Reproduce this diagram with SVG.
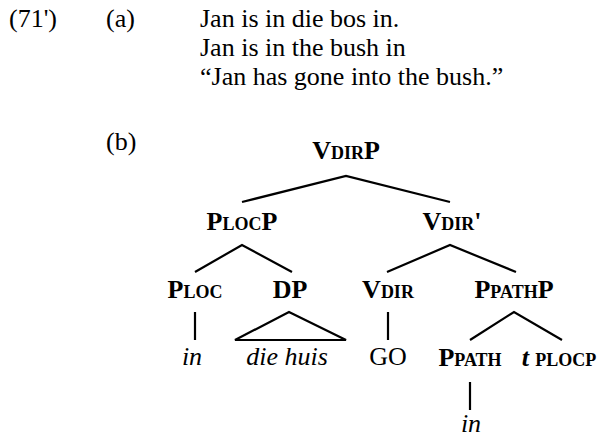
<svg xmlns="http://www.w3.org/2000/svg" width="598" height="441" viewBox="0 0 598 441" font-family="Liberation Serif, DejaVu Serif, serif">
<style>
text{font-family:'Liberation Serif','DejaVu Serif',serif;font-size:26px;fill:#000}
.lab{font-weight:bold;text-anchor:middle}
.sc{font-size:18px}
.it{font-style:italic}
.mid{text-anchor:middle}
.edge{stroke:#000;stroke-width:2.2;fill:none}
</style>
<rect width="598" height="441" fill="#fff"/>
<g id="example-a">
<text x="9" y="27">(71')</text>
<text x="106" y="27">(a)</text>
<text x="200" y="27">Jan is in die bos in.</text>
<text x="200" y="56">Jan is in the bush in</text>
<text x="200" y="85">“Jan has gone into the bush.”</text>
<text x="106" y="150">(b)</text>
</g>
<g id="connectors">
<polyline class="edge" points="242,202 346,176 450,202"/>
<polyline class="edge" points="195,272 242,245 292,272"/>
<polyline class="edge" points="387,272 450,245 516,272"/>
<polyline class="edge" points="470,340 514,312 562,340"/>
<line class="edge" x1="195" y1="312" x2="195" y2="340"/>
<polygon class="edge" points="235,340 289,312 346,340"/>
<line class="edge" x1="388" y1="312" x2="388" y2="340"/>
<line class="edge" x1="470" y1="382" x2="470" y2="410"/>
</g>
<g id="n-VdirP"><text class="lab" x="346" y="159">V<tspan class="sc">DIR</tspan>P</text></g>
<g id="n-PlocP"><text class="lab" x="242" y="230">P<tspan class="sc">LOC</tspan>P</text></g>
<g id="n-Vdir1"><text class="lab" x="452" y="230">V<tspan class="sc">DIR</tspan>'</text></g>
<g id="n-Ploc"><text class="lab" x="195" y="298">P<tspan class="sc">LOC</tspan></text></g>
<g id="n-DP"><text class="lab" x="290" y="298">DP</text></g>
<g id="n-Vdir"><text class="lab" x="388" y="298">V<tspan class="sc">DIR</tspan></text></g>
<g id="n-PpathP"><text class="lab" x="514" y="298">P<tspan class="sc">PATH</tspan>P</text></g>
<g id="n-in1"><text class="it mid" x="192" y="365">in</text></g>
<g id="n-diehuis"><text class="it mid" x="287" y="365">die huis</text></g>
<g id="n-GO"><text class="mid" x="388" y="365">GO</text></g>
<g id="n-Ppath"><text class="lab" x="470" y="366">P<tspan class="sc">PATH</tspan></text></g>
<g id="n-trace"><text class="lab" x="559" y="366"><tspan class="it">t</tspan> <tspan class="sc">PLOCP</tspan></text></g>
<g id="n-in2"><text class="it mid" x="471" y="432">in</text></g>
</svg>
